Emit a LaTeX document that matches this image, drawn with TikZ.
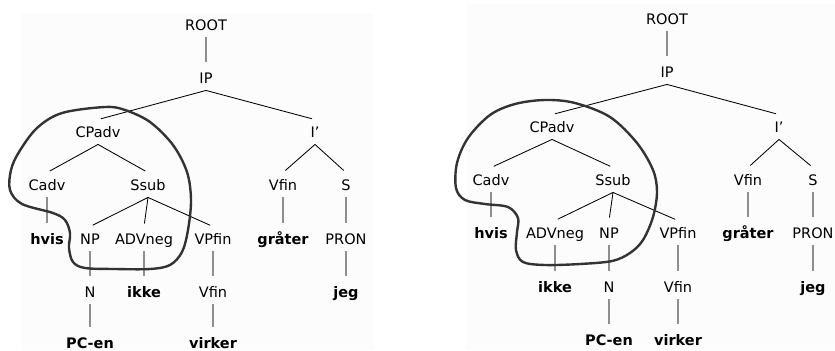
\documentclass[tikz,border=0pt]{standalone}
\usepackage{fontspec}
\setmainfont{DejaVu Sans}
\usepackage{xcolor}
\definecolor{clrPanel}{HTML}{FCFCFC}
\definecolor{clrUnary}{HTML}{8E8E8E}
\definecolor{clrBlob}{HTML}{333333}

\begin{document}
\begin{tikzpicture}[
    x=0.025cm, y=-0.025cm,
    cat/.style={font=\fontsize{10.3}{12}\selectfont, inner xsep=1pt, inner ysep=4.9pt, text height=7.5pt, text depth=0pt},
    word/.style={cat, font=\fontsize{10.3}{12}\selectfont\bfseries},
    branch/.style={line width=0.6pt, black, shorten >=2.2pt},
    unary/.style={line width=0.9pt, clrUnary, shorten >=2.2pt},
    blob/.style={line width=1.7pt, clrBlob, line join=round},
    panel/.style={fill=clrPanel, draw=none},
]
\useasboundingbox (0,0) rectangle (835,350);

% === Panels ===
\fill[panel] (22,13) rectangle (374,350);
\fill[panel] (466,4) rectangle (835,350);

% === Left tree ===
\node[cat] (lroot) at (206,25) {ROOT};
\node[cat] (lip) at (206,78) {IP};
\node[cat] (lcp) at (98,132) {CPadv};
\node[cat] (libar) at (315,132) {I\char"27};
\node[cat] (lcadv) at (47,185) {Cadv};
\node[cat] (lssub) at (148,185) {Ssub};
\node[cat] (lvfin) at (283,185) {Vfin};
\node[cat] (ls) at (346,185) {S};
\node[word] (lhvis) at (47,239) {hvis};
\node[cat] (lnp) at (90,239) {NP};
\node[cat] (ladv) at (144,239) {ADVneg};
\node[cat] (lvp) at (213,239) {VPfin};
\node[word] (lgrater) at (283,239) {gråter};
\node[cat] (lpron) at (346,239) {PRON};
\node[cat] (ln) at (90,292) {N};
\node[word] (likke) at (144,292) {ikke};
\node[cat] (lvfinb) at (213,292) {Vfin};
\node[word] (ljeg) at (346,292) {jeg};
\node[word] (lpcen) at (90,343) {PC-en};
\node[word] (lvirker) at (213,343) {virker};

\draw[unary] (lroot.south) -- (lip.north);
\draw[branch] (lip.south) -- (lcp.north);
\draw[branch] (lip.south) -- (libar.north);
\draw[branch] (lcp.south) -- (lcadv.north);
\draw[branch] (lcp.south) -- (lssub.north);
\draw[branch] (libar.south) -- (lvfin.north);
\draw[branch] (libar.south) -- (ls.north);
\draw[unary] (lcadv.south) -- (lhvis.north);
\draw[branch] (lssub.south) -- (lnp.north);
\draw[branch] (lssub.south) -- (ladv.north);
\draw[branch] (lssub.south) -- (lvp.north);
\draw[unary] (lvfin.south) -- (lgrater.north);
\draw[unary] (ls.south) -- (lpron.north);
\draw[unary] (lnp.south) -- (ln.north);
\draw[unary] (ladv.south) -- (likke.north);
\draw[unary] (lvp.south) -- (lvfinb.north);
\draw[unary] (lpron.south) -- (ljeg.north);
\draw[unary] (ln.south) -- (lpcen.north);
\draw[unary] (lvfinb.south) -- (lvirker.north);

% === Right tree ===
\node[cat] (rroot) at (667,19) {ROOT};
\node[cat] (rip) at (667,72) {IP};
\node[cat] (rcp) at (552,127) {CPadv};
\node[cat] (ribar) at (779,127) {I\char"27};
\node[cat] (rcadv) at (491,180) {Cadv};
\node[cat] (rssub) at (613,180) {Ssub};
\node[cat] (rvfin) at (748,180) {Vfin};
\node[cat] (rs) at (813,180) {S};
\node[word] (rhvis) at (491,233) {hvis};
\node[cat] (radv) at (555,233) {ADVneg};
\node[cat] (rnp) at (609,233) {NP};
\node[cat] (rvp) at (678,233) {VPfin};
\node[word] (rgrater) at (748,233) {gråter};
\node[cat] (rpron) at (813,233) {PRON};
\node[word] (rikke) at (555,287) {ikke};
\node[cat] (rn) at (609,287) {N};
\node[cat] (rvfinb) at (678,287) {Vfin};
\node[word] (rjeg) at (813,287) {jeg};
\node[word] (rpcen) at (609,340) {PC-en};
\node[word] (rvirker) at (678,340) {virker};

\draw[unary] (rroot.south) -- (rip.north);
\draw[branch] (rip.south) -- (rcp.north);
\draw[branch] (rip.south) -- (ribar.north);
\draw[branch] (rcp.south) -- (rcadv.north);
\draw[branch] (rcp.south) -- (rssub.north);
\draw[branch] (ribar.south) -- (rvfin.north);
\draw[branch] (ribar.south) -- (rs.north);
\draw[unary] (rcadv.south) -- (rhvis.north);
\draw[branch] (rssub.south) -- (radv.north);
\draw[branch] (rssub.south) -- (rnp.north);
\draw[branch] (rssub.south) -- (rvp.north);
\draw[unary] (rvfin.south) -- (rgrater.north);
\draw[unary] (rs.south) -- (rpron.north);
\draw[unary] (radv.south) -- (rikke.north);
\draw[unary] (rnp.south) -- (rn.north);
\draw[unary] (rvp.south) -- (rvfinb.north);
\draw[unary] (rpron.south) -- (rjeg.north);
\draw[unary] (rn.south) -- (rpcen.north);
\draw[unary] (rvfinb.south) -- (rvirker.north);

% === Blobs ===
\draw[blob] plot[smooth cycle, tension=0.55] coordinates {
    (105,107) (125,110) (150,122) (173,145) (187,172) (191,200) (188,230)
    (182,252) (170,265) (150,269) (115,269) (85,268) (73,262) (69,248)
    (70,233) (65,220) (53,213) (22,204) (10,190) (11,170) (19,152)
    (37,128) (62,113)};
\draw[blob] plot[smooth cycle, tension=0.55] coordinates {
    (545,100) (575,103) (610,117) (637,143) (653,170) (657,192) (653,217)
    (643,240) (630,253) (612,261) (580,264) (545,265) (523,262) (516,250)
    (517,232) (518,218) (508,207) (485,204) (465,200) (456,188) (457,163)
    (468,138) (490,115) (515,104)};

\end{tikzpicture}
\end{document}
